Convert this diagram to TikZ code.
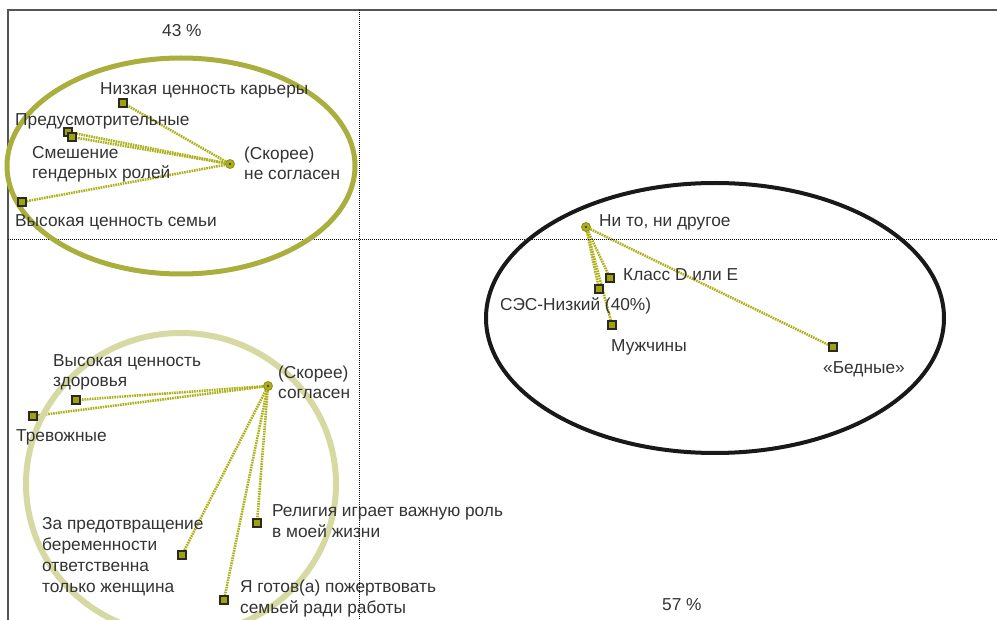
\documentclass[tikz,border=0pt]{standalone}
\usepackage{fontspec}
\setmainfont{Liberation Sans}
\definecolor{txt}{HTML}{333333}
\definecolor{olive}{HTML}{A9AE3C}
\definecolor{pale}{HTML}{D6D9A2}
\definecolor{lc}{HTML}{ADB01A}
\definecolor{mkfill}{HTML}{9EA20F}
\definecolor{mkline}{HTML}{2A2A22}
\definecolor{frame}{HTML}{555555}
\pgfdeclarelayer{bg}
\pgfsetlayers{bg,main}
\tikzset{
  sq/.style={rectangle, draw=mkline, fill=mkfill, line width=1.8pt, minimum size=8.5pt, inner sep=0pt},
  hub/.style={circle, draw=lc!80!black, fill=lc, line width=0.8pt, minimum size=9pt, inner sep=0pt},
  conn/.style={draw=lc, line width=2.6pt, dash pattern=on 1.6pt off 0.9pt},
  lab/.style={anchor=base west, inner sep=0pt, align=left, text=txt, font=\fontsize{17.3}{20.7}\selectfont},
  axis/.style={draw=black, line width=0.9pt, dash pattern=on 1pt off 1pt},
}
\begin{document}
\begin{tikzpicture}[x=1pt,y=-1pt]
\useasboundingbox (0,0) rectangle (997,620);
\clip (0,0) rectangle (997,620);
% frame
\draw[frame, line width=1.4pt] (8,620) -- (8,10) -- (997,10);
% axes
\draw[axis] (359,10) -- (359,620);
\draw[axis] (8,239) -- (997,239);
% groups
\draw[olive, line width=5pt] (181,166) ellipse [x radius=174pt, y radius=108pt];
\draw[pale, line width=6pt] (181,484) ellipse [x radius=155pt, y radius=151pt];
\draw[black!90, line width=4pt] (715,318) ellipse [x radius=229pt, y radius=135pt];

% top-left group
\node[hub] (h1) at (230,164) {};
\node[sq] (m1) at (123,103) {};
\node[sq] (m2) at (68,132) {};
\node[sq] (m3) at (72,137) {};
\node[sq] (m4) at (22,202) {};
% right group
\node[hub] (h2) at (586,227) {};
\node[sq] (r1) at (610,278) {};
\node[sq] (r2) at (599,289) {};
\node[sq] (r3) at (612,325) {};
\node[sq] (r4) at (833,347) {};
% bottom group
\node[hub] (h3) at (268,386) {};
\node[sq] (b1) at (76,400) {};
\node[sq] (b2) at (33,416) {};
\node[sq] (b3) at (257,523) {};
\node[sq] (b4) at (182,555) {};
\node[sq] (b5) at (224,600) {};

\foreach \h in {h1,h2,h3} \fill[mkline!80!lc] (\h.center) circle (1.4pt);

\begin{pgfonlayer}{bg}
\foreach \m in {m1,m2,m3,m4} \draw[conn] (h1.center) -- (\m.center);
\foreach \m in {r1,r2,r3,r4} \draw[conn] (h2.center) -- (\m.center);
\foreach \m in {b1,b2,b3,b4,b5} \draw[conn] (h3.center) -- (\m.center);
\end{pgfonlayer}

% labels
\node[lab] (t43) at (162,37) {43 \%};
\node[lab] (t1) at (100,95) {Низкая ценность карьеры};
\node[lab] (t2) at (15,126) {Предусмотрительные};
\node[lab] (t3) at (32,179) {Смешение\\гендерных ролей};
\node[lab] (t4) at (244,180) {(Скорее)\\не согласен};
\node[lab] (t5) at (15,227) {Высокая ценность семьи};
\node[lab] (t6) at (599,227) {Ни то, ни другое};
\node[lab] (t7) at (623,281) {Класс D или E};
\node[lab] (t8) at (500,311) {СЭС-Низкий (40\%)};
\node[lab] (t9) at (611,352) {Мужчины};
\node[lab] (t10) at (823,374) {«Бедные»};
\node[lab] (t11) at (53,387) {Высокая ценность\\здоровья};
\node[lab] (t12) at (278,399) {(Скорее)\\согласен};
\node[lab] (t13) at (16,442) {Тревожные};
\node[lab] (t14) at (272,537) {Религия играет важную роль\\в моей жизни};
\node[lab] (t15) at (42,592) {За предотвращение\\беременности\\ответственна\\только женщина};
\node[lab] (t16) at (240,613) {Я готов(а) пожертвовать\\семьей ради работы};
\node[lab] (t57) at (662,610) {57 \%};
\end{tikzpicture}
\end{document}
